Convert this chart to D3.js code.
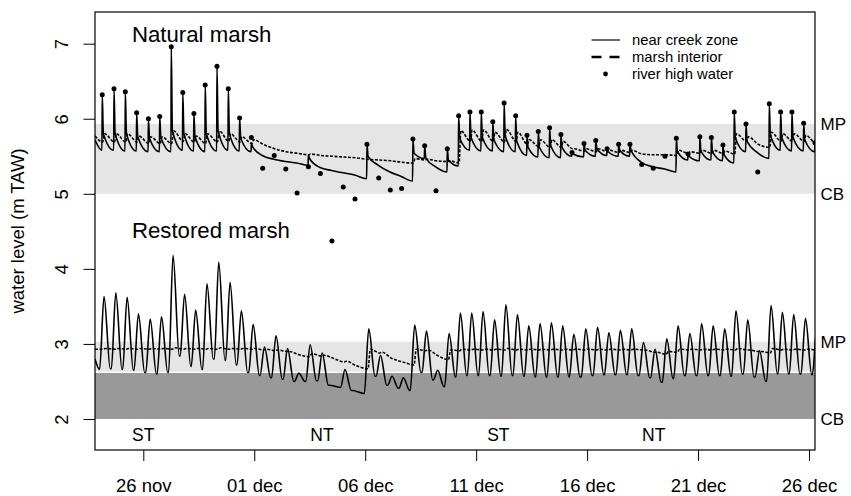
<!DOCTYPE html>
<html lang="en">
<head>
<meta charset="utf-8">
<script src="https://cdn.jsdelivr.net/npm/d3@7"></script>
<style>
  body { margin: 0; background: #fff; }
  svg { display: block; font-family: "Liberation Sans", Arial, Helvetica, sans-serif; }
</style>
</head>
<body>
<div id="chart"></div>
<script>
// high water times, in days counted from 31 oct (24.15 = 24 nov, 31.38 = 1 dec)
var hwDay = [24.15, 24.68, 25.19, 25.70, 26.23, 26.74, 27.26, 27.78, 28.28, 28.79,
             29.32, 29.83, 30.34, 30.87, 31.38, 31.90, 32.42, 32.93, 33.44, 33.98,
             34.50, 35.01, 35.54, 36.08, 36.61, 37.13, 37.64, 38.15, 38.68, 39.19,
             39.70, 40.21, 40.72, 41.23, 41.75, 42.26, 42.78, 43.29, 43.80, 44.31,
             44.82, 45.32, 45.86, 46.39, 46.90, 47.42, 47.93, 48.46, 48.98, 49.51,
             50.02, 50.55, 51.08, 51.60, 52.12, 52.63, 53.16, 53.69, 54.21, 54.72,
             55.23, 55.76, 56.27];

// river high water (m TAW)
var riverHW = [6.32, 6.40, 6.36, 6.08, 6.00, 6.03, 6.96, 6.35, 6.07, 6.45,
               6.70, 6.40, 6.01, 5.75, 5.34, 5.51, 5.33, 5.01, 5.36, 5.27,
               4.37, 5.09, 4.93, 5.66, 5.21, 5.05, 5.07, 5.73, 5.64, 5.04,
               5.60, 6.04, 6.09, 6.09, 5.96, 6.21, 6.04, 5.78, 5.83, 5.88,
               5.79, 5.55, 5.67, 5.71, 5.60, 5.66, 5.66, 5.39, 5.34, 5.50,
               5.74, 5.53, 5.76, 5.75, 5.65, 6.09, 5.93, 5.29, 6.20, 6.09,
               6.09, 5.94, 5.68];

// natural marsh, near creek zone: level at each tide (null = not flooded),
// level just after the quick drop, level just before the next tide
var natNearTop = [6.32, 6.40, 6.36, 6.08, 6.00, 6.03, 6.96, 6.35, 6.07, 6.45,
                  6.70, 6.40, 6.01, 5.68, null, null, null, null, 5.52, null,
                  null, null, null, 5.66, null, null, null, 5.73, 5.64, null,
                  5.60, 6.04, 6.09, 6.09, 5.96, 6.21, 6.04, 5.78, 5.83, 5.88,
                  5.79, 5.55, 5.67, 5.71, 5.60, 5.66, 5.66, null, null, null,
                  5.74, 5.53, 5.76, 5.75, 5.65, 6.09, 5.93, null, 6.20, 6.09,
                  6.09, 5.94, 5.68];
var natNearAfter = [5.80, 5.80, 5.80, 5.76, 5.74, 5.75, 5.84, 5.80, 5.76, 5.80,
                    5.84, 5.80, 5.74, 5.63, null, null, null, null, 5.47, null,
                    null, null, null, 5.50, null, null, null, 5.54, 5.48, null,
                    5.45, 5.74, 5.75, 5.75, 5.72, 5.77, 5.70, 5.62, 5.62, 5.64,
                    5.62, 5.53, 5.58, 5.60, 5.56, 5.58, 5.58, null, null, null,
                    5.56, 5.50, 5.57, 5.56, 5.52, 5.74, 5.70, null, 5.78, 5.75,
                    5.75, 5.72, 5.62];
var natNearLow = [5.58, 5.57, 5.57, 5.56, 5.56, 5.56, 5.58, 5.57, 5.56, 5.57,
                  5.58, 5.57, 5.56, 5.51, 5.46, 5.43, 5.41, 5.38, 5.35, 5.31,
                  5.28, 5.25, 5.20, 5.38, 5.29, 5.23, 5.17, 5.47, 5.36, 5.29,
                  5.37, 5.58, 5.57, 5.57, 5.56, 5.56, 5.51, 5.49, 5.48, 5.48,
                  5.50, 5.49, 5.50, 5.51, 5.50, 5.50, 5.42, 5.36, 5.33, 5.29,
                  5.45, 5.44, 5.45, 5.44, 5.41, 5.56, 5.55, 5.47, 5.58, 5.57,
                  5.57, 5.56, 5.58];
var natNearStart = [5.72, 5.58];

// natural marsh, marsh interior
var natIntTop = [5.80, 5.80, 5.80, 5.77, 5.76, 5.76, 5.84, 5.80, 5.77, 5.80,
                 5.84, 5.80, 5.76, 5.72, null, null, null, null, 5.53, null,
                 null, null, null, null, null, null, null, 5.47, 5.46, null,
                 5.44, 5.84, 5.85, 5.85, 5.82, 5.86, 5.82, 5.72, 5.72, 5.72,
                 5.70, 5.60, 5.60, 5.60, 5.58, 5.58, 5.58, null, null, null,
                 5.58, 5.56, 5.58, 5.58, 5.57, 5.80, 5.76, null, 5.82, 5.80,
                 5.80, 5.78, 5.72];
var natIntLow = [5.69, 5.69, 5.69, 5.67, 5.67, 5.67, 5.70, 5.69, 5.67, 5.69,
                 5.70, 5.69, 5.67, 5.66, 5.60, 5.56, 5.54, 5.52, 5.51, 5.50,
                 5.49, 5.48, 5.46, 5.45, 5.44, 5.42, 5.41, 5.45, 5.44, 5.43,
                 5.41, 5.70, 5.70, 5.70, 5.69, 5.70, 5.66, 5.63, 5.62, 5.62,
                 5.60, 5.57, 5.56, 5.56, 5.55, 5.55, 5.53, 5.52, 5.52, 5.51,
                 5.54, 5.54, 5.54, 5.54, 5.53, 5.70, 5.66, 5.62, 5.70, 5.70,
                 5.70, 5.68, 5.68];
var natIntStart = [5.77, 5.69];

// restored marsh, near creek zone
var resNearTop = [3.63, 3.68, 3.62, 3.40, 3.33, 3.36, 4.18, 3.66, 3.45, 3.80,
                  4.09, 3.82, 3.44, 3.26, 2.96, 3.11, 2.94, 2.61, 2.99, 2.88,
                  null, 2.66, null, 3.20, 2.85, 2.57, 2.55, 3.25, 3.17, 2.65,
                  3.14, 3.41, 3.41, 3.43, 3.32, 3.52, 3.39, 3.24, 3.27, 3.28,
                  3.24, 3.13, 3.20, 3.22, 3.15, 3.18, 3.20, 3.02, 2.93, 3.07,
                  3.24, 3.14, 3.27, 3.24, 3.20, 3.44, 3.32, 2.91, 3.51, 3.42,
                  3.39, 3.34, 3.21];
var resNearLow = [2.67, 2.66, 2.65, 2.62, 2.60, 2.62, 2.84, 2.70, 2.66, 2.80,
                  2.78, 2.72, 2.62, 2.58, 2.55, 2.53, 2.50, 2.50, 2.51, 2.45,
                  2.42, 2.38, 2.34, 2.57, 2.45, 2.41, 2.38, 2.62, 2.52, 2.43,
                  2.56, 2.58, 2.58, 2.58, 2.57, 2.58, 2.57, 2.56, 2.56, 2.56,
                  2.56, 2.56, 2.58, 2.59, 2.59, 2.59, 2.58, 2.55, 2.49, 2.54,
                  2.58, 2.58, 2.58, 2.58, 2.57, 2.60, 2.56, 2.50, 2.60, 2.60,
                  2.60, 2.59, 2.60];
var resNearStart = [2.80, 2.66];

// restored marsh, marsh interior
var resIntTop = [2.94, 2.94, 2.94, 2.94, 2.94, 2.94, 2.95, 2.94, 2.94, 2.94,
                 2.95, 2.94, 2.94, 2.94, 2.93, 2.92, 2.90, null, 2.87, 2.85,
                 null, 2.77, null, 2.93, 2.89, null, null, 2.93, 2.92, null,
                 2.92, 2.93, 2.93, 2.93, 2.93, 2.94, 2.93, 2.93, 2.93, 2.93,
                 2.93, 2.93, 2.93, 2.93, 2.93, 2.93, 2.93, 2.92, 2.89, 2.90,
                 2.93, 2.93, 2.93, 2.93, 2.93, 2.94, 2.92, 2.90, 2.94, 2.93,
                 2.93, 2.93, 2.93];
var resIntLow = [2.93, 2.93, 2.93, 2.93, 2.93, 2.93, 2.93, 2.93, 2.93, 2.93,
                 2.93, 2.93, 2.93, 2.92, 2.91, 2.90, 2.86, 2.83, 2.84, 2.81,
                 2.76, 2.71, 2.67, 2.88, 2.81, 2.76, 2.72, 2.91, 2.85, 2.79,
                 2.91, 2.92, 2.92, 2.92, 2.92, 2.92, 2.92, 2.92, 2.92, 2.92,
                 2.92, 2.92, 2.92, 2.92, 2.92, 2.92, 2.92, 2.89, 2.86, 2.89,
                 2.92, 2.92, 2.92, 2.92, 2.92, 2.92, 2.90, 2.88, 2.92, 2.92,
                 2.92, 2.92, 2.92];
var resIntStart = [2.93, 2.93];

// reference levels
var natBand = [5.00, 5.93];          // CB, MP natural marsh
var resBand = [2.00, 2.62, 3.03];    // CB, lower marsh, MP restored marsh
var levelNames = ["MP", "CB", "MP", "CB"];
var levelValues = [5.93, 5.00, 3.03, 2.00];

// spring / neap tide labels
var tideLabels = ["ST", "NT", "ST", "NT"];
var tideLabelDay = [26.0, 34.05, 42.0, 49.0];

var xTickDay = [26, 31, 36, 41, 46, 51, 56];
var xTickLabels = ["26 nov", "01 dec", "06 dec", "11 dec", "16 dec", "21 dec", "26 dec"];
var yTicks = [2, 3, 4, 5, 6, 7];
var legendLabels = ["near creek zone", "marsh interior", "river high water"];

var width = 851, height = 496;
var margin = {top: 12, right: 36, bottom: 46, left: 95};
var base = Date.UTC(2006, 9, 31);
function toDate(d) { return new Date(base + d * 864e5); }

var dayStart = 23.823, dayEnd = 56.27;
var x = d3.scaleUtc().domain([toDate(dayStart), toDate(dayEnd)])
          .range([margin.left, width - margin.right]);
var y = d3.scaleLinear().domain([1.587, 7.422])
          .range([height - margin.bottom, margin.top]);

var svg = d3.select("#chart").append("svg")
            .attr("width", width)
            .attr("height", height);

svg.append("clipPath").attr("id", "plot-area")
   .append("rect")
   .attr("x", margin.left).attr("y", margin.top)
   .attr("width", width - margin.left - margin.right)
   .attr("height", height - margin.top - margin.bottom);

// shaded bands
function band(lo, hi, fill) {
    svg.append("rect")
       .attr("x", x(toDate(dayStart))).attr("width", x(toDate(dayEnd)) - x(toDate(dayStart)))
       .attr("y", y(hi)).attr("height", y(lo) - y(hi))
       .attr("fill", fill);
}
band(natBand[0], natBand[1], "#e5e5e5");
band(resBand[1], resBand[2], "#e5e5e5");
band(resBand[0], resBand[1], "#999999");
svg.append("line")
   .attr("x1", x(toDate(dayStart))).attr("x2", x(toDate(dayEnd)))
   .attr("y1", y(resBand[1])).attr("y2", y(resBand[1]))
   .attr("stroke", "#fff").attr("stroke-width", 1.2);

// build the vertex list of one water level series, tide by tide
function buildSeries(start, top, after, low, o) {
    var pts = [[dayStart, start[0]], [hwDay[0] + o.pre, start[1]]];
    hwDay.forEach(function(t, k) {
        if (top[k] != null) {
            pts.push([t + o.peak, top[k]]);
            if (after && after[k] != null) pts.push([t + o.after, after[k]]);
        }
        var next = k < hwDay.length - 1 ? hwDay[k + 1] : t + 0.52;
        pts.push([next + o.pre, low[k]]);
    });
    return pts;
}

var line = d3.line()
    .x(function(d) { return x(toDate(d[0])); })
    .y(function(d) { return y(d[1]); })
    .curve(d3.curveMonotoneX);

var lines = svg.append("g").attr("clip-path", "url(#plot-area)");

var series = [
    {pts: buildSeries(natIntStart, natIntTop, null, natIntLow, {pre: 0.02, peak: 0.1}), dash: true},
    {pts: buildSeries(natNearStart, natNearTop, natNearAfter, natNearLow, {pre: -0.015, peak: 0, after: 0.05}), dash: false},
    {pts: buildSeries(resIntStart, resIntTop, null, resIntLow, {pre: 0.05, peak: 0.15}), dash: true},
    {pts: buildSeries(resNearStart, resNearTop, resNearLow, resNearLow, {pre: -0.12, peak: 0.08, after: 0.36}), dash: false}
];

series.forEach(function(s) {
    lines.append("path")
        .datum(s.pts)
        .attr("d", line)
        .attr("fill", "none")
        .attr("stroke", "#000")
        .attr("stroke-width", 1.6)
        .attr("stroke-linejoin", "round")
        .attr("stroke-dasharray", s.dash ? "3,1.5" : null);
});

// river high water dots
lines.selectAll(".hw")
    .data(hwDay)
    .enter()
    .append("circle")
    .attr("class", "hw")
    .attr("cx", function(d) { return x(toDate(d)); })
    .attr("cy", function(d, i) { return y(riverHW[i]); })
    .attr("r", 2.5)
    .attr("fill", "#000");

// box
svg.append("rect")
   .attr("x", margin.left).attr("y", margin.top)
   .attr("width", width - margin.left - margin.right)
   .attr("height", height - margin.top - margin.bottom)
   .attr("fill", "none")
   .attr("stroke", "#000")
   .attr("stroke-width", 1.2);

// axes
var xAxis = d3.axisBottom(x)
    .tickValues(xTickDay.map(toDate))
    .tickSize(11)
    .tickPadding(17.5)
    .tickFormat(function(d, i) { return xTickLabels[i]; });

var gx = svg.append("g")
    .attr("transform", "translate(0," + (height - margin.bottom) + ")")
    .call(xAxis);
gx.select(".domain").remove();
gx.selectAll("text").attr("font-size", 18.5).attr("font-family", "Liberation Sans, Arial, sans-serif").attr("fill", "#000");

var yAxis = d3.axisLeft(y)
    .tickValues(yTicks)
    .tickSize(11.5)
    .tickFormat(d3.format("d"));

var gy = svg.append("g")
    .attr("transform", "translate(" + margin.left + ",0)")
    .call(yAxis);
gy.select(".domain").remove();
gy.selectAll(".tick text")
    .attr("x", 0)
    .attr("y", -33)
    .attr("dy", "0.35em")
    .attr("transform", "rotate(-90)")
    .attr("text-anchor", "middle")
    .attr("font-size", 18.5)
    .attr("font-family", "Liberation Sans, Arial, sans-serif")
    .attr("fill", "#000");

svg.append("text")
   .attr("transform", "translate(24," + ((margin.top + height - margin.bottom) / 2) + ") rotate(-90)")
   .attr("text-anchor", "middle")
   .attr("font-size", 18.5)
   .text("water level (m TAW)");

// panel titles
svg.append("text").attr("x", margin.left + 37).attr("y", 41.7)
   .attr("font-size", 22.2).text("Natural marsh");
svg.append("text").attr("x", margin.left + 37).attr("y", 237.8)
   .attr("font-size", 22.2).text("Restored marsh");

// MP / CB labels on the right
svg.selectAll(".lvl")
   .data(levelValues)
   .enter()
   .append("text")
   .attr("class", "lvl")
   .attr("x", width - margin.right + 5.5)
   .attr("y", function(d) { return y(d); })
   .attr("dy", "0.35em")
   .attr("font-size", 17)
   .text(function(d, i) { return levelNames[i]; });

// spring / neap labels
svg.selectAll(".tide")
   .data(tideLabelDay)
   .enter()
   .append("text")
   .attr("class", "tide")
   .attr("x", function(d) { return x(toDate(d)); })
   .attr("y", y(1.79))
   .attr("dy", "0.35em")
   .attr("text-anchor", "middle")
   .attr("font-size", 17.5)
   .text(function(d, i) { return tideLabels[i]; });

// legend
var lg = svg.append("g");
var rowY = [40, 57, 74];
lg.append("line").attr("x1", 591.5).attr("x2", 620).attr("y1", rowY[0]).attr("y2", rowY[0])
  .attr("stroke", "#000").attr("stroke-width", 1.2);
lg.append("line").attr("x1", 591.5).attr("x2", 620).attr("y1", rowY[1]).attr("y2", rowY[1])
  .attr("stroke", "#000").attr("stroke-width", 2.7).attr("stroke-dasharray", "10,8");
lg.append("circle").attr("cx", 605.5).attr("cy", rowY[2]).attr("r", 2.4).attr("fill", "#000");
lg.selectAll("text")
  .data(legendLabels)
  .enter()
  .append("text")
  .attr("x", 632)
  .attr("y", function(d, i) { return rowY[i]; })
  .attr("dy", "0.35em")
  .attr("font-size", 14.8)
  .text(function(d) { return d; });
</script>
</body>
</html>
